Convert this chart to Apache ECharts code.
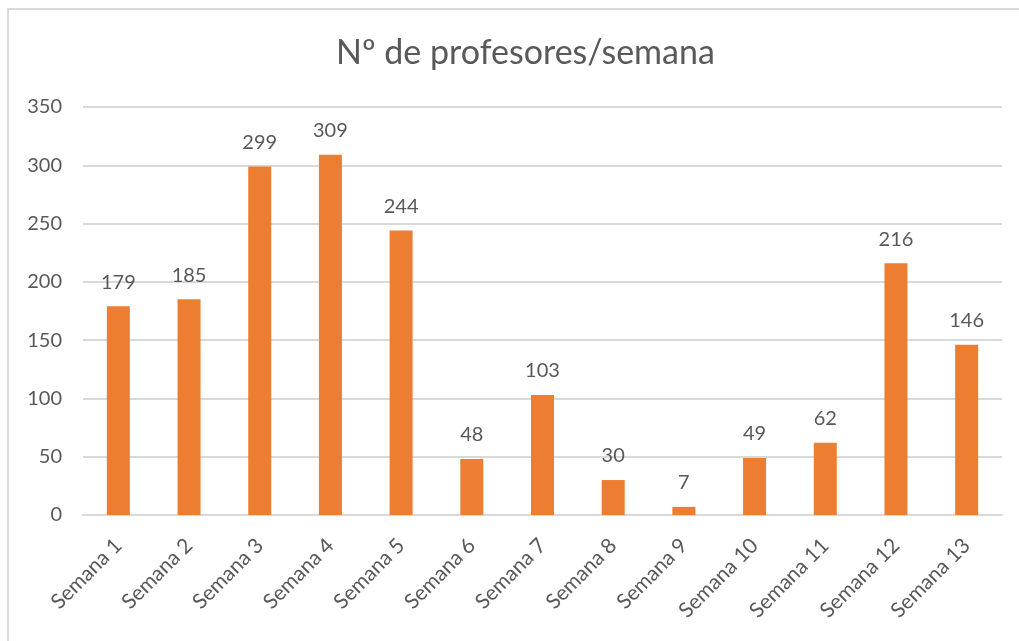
<!DOCTYPE html>
<html lang="es">
<head>
  <meta charset="UTF-8">
  <title>Nº de profesores/semana</title>
  <style>
    html, body { margin: 0; padding: 0; background: #fff; }
    #frame { position: absolute; left: 7px; top: 8px; width: 1100px; height: 700px; border: 2px solid #d9d9d9; box-sizing: border-box; }
    #main { position: absolute; left: 0; top: 0; width: 1019px; height: 641px; }
  </style>
</head>
<body>
  <div id="frame"></div>
  <div id="main"></div>
  <script src="https://cdn.jsdelivr.net/npm/echarts@6/dist/echarts.min.js"></script>
  <script>
    // datos
    var semanas = ['Semana 1', 'Semana 2', 'Semana 3', 'Semana 4', 'Semana 5', 'Semana 6', 'Semana 7',
      'Semana 8', 'Semana 9', 'Semana 10', 'Semana 11', 'Semana 12', 'Semana 13'];
    var profesores = [179, 185, 299, 309, 244, 48, 103, 30, 7, 49, 62, 216, 146];
    var yTicks = [0, 50, 100, 150, 200, 250, 300, 350];

    var fuente = 'Lato, "Open Sans", sans-serif';
    var gris = '#595959';

    var myChart = echarts.init(document.getElementById('main'));
    myChart.setOption({
      animation: false,
      title: {
        text: 'Nº de profesores/semana',
        left: 331,
        top: 31,
        textStyle: { fontFamily: fuente, fontSize: 34, fontWeight: 'normal', color: gris }
      },
      grid: { left: 83, right: 17, top: 107, bottom: 126 },
      xAxis: {
        type: 'category',
        data: semanas,
        axisTick: { show: false },
        axisLine: { lineStyle: { color: '#d9d9d9', width: 2 } },
        axisLabel: { rotate: 45, interval: 0, margin: 27, fontFamily: fuente, fontSize: 21, color: gris }
      },
      yAxis: {
        type: 'value',
        min: yTicks[0],
        max: yTicks[yTicks.length - 1],
        interval: 50,
        axisLine: { show: false },
        axisTick: { show: false },
        splitLine: { lineStyle: { color: '#d9d9d9', width: 2 } },
        axisLabel: { margin: 21, fontFamily: fuente, fontSize: 20, color: gris }
      },
      series: [{
        type: 'bar',
        data: profesores,
        barWidth: 23,
        itemStyle: { color: '#ed7d31' },
        label: {
          show: true,
          position: 'top',
          distance: 14,
          fontFamily: fuente,
          fontSize: 20,
          color: gris
        }
      }]
    });
  </script>
</body>
</html>
